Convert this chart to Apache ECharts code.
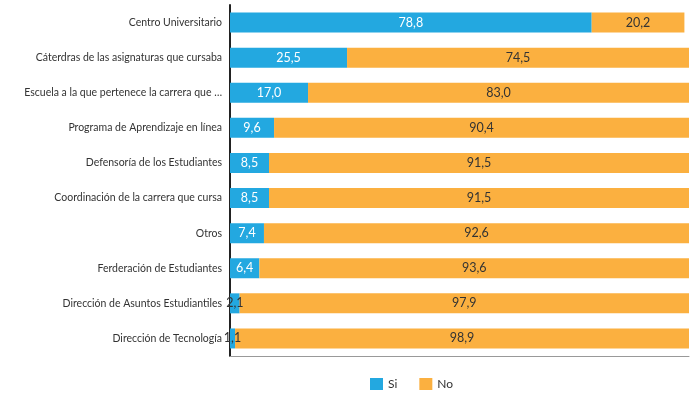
<!DOCTYPE html>
<html>
<head>
<meta charset="utf-8">
<script src="https://cdn.jsdelivr.net/npm/echarts@6/dist/echarts.min.js"></script>
<style>html,body{margin:0;padding:0;background:#fff}#c{width:690px;height:396px}</style>
</head>
<body>
<div id="c"></div>
<script>
const categories = [
  "Centro Universitario",
  "Cáterdras de las asignaturas que cursaba",
  "Escuela a la que pertenece la carrera que …",
  "Programa de Aprendizaje en línea",
  "Defensoría de los Estudiantes",
  "Coordinación de la carrera que cursa",
  "Otros",
  "Ferderación de Estudiantes",
  "Dirección de Asuntos Estudiantiles",
  "Dirección de Tecnología"
];
const siValues = [78.8, 25.5, 17.0, 9.6, 8.5, 8.5, 7.4, 6.4, 2.1, 1.1];
const noValues = [20.2, 74.5, 83.0, 90.4, 91.5, 91.5, 92.6, 93.6, 97.9, 98.9];
const seriesNames = ["Si", "No"];

const font = "Lato, sans-serif";
const fmt = p => p.value.toFixed(1).replace('.', ',');

const chart = echarts.init(document.getElementById('c'), null, {renderer: 'canvas'});
chart.setOption({
  animation: false,
  textStyle: {fontFamily: font},
  grid: {left: 230, right: 1, top: 5, bottom: 40, containLabel: false, outerBoundsMode: 'none'},
  legend: {
    data: seriesNames, left: 365, top: 373, itemWidth: 13, itemHeight: 12, itemGap: 22,
    icon: 'rect', textStyle: {fontSize: 12, color: '#333', fontFamily: font}
  },
  xAxis: {
    type: 'value', min: 0, max: 100,
    axisLine: {show: true, lineStyle: {color: '#999', width: 1}},
    axisTick: {show: false}, axisLabel: {show: false}, splitLine: {show: false}
  },
  yAxis: {
    type: 'category', data: categories, inverse: true,
    axisLine: {show: true, lineStyle: {color: '#222', width: 2}},
    axisTick: {show: false},
    axisLabel: {fontSize: 10.5, color: '#333', margin: 8, fontFamily: font}
  },
  series: [
    {
      name: seriesNames[0], type: 'bar', stack: 'total', barWidth: 20,
      itemStyle: {color: '#23a8e0'},
      data: siValues.map(v => ({value: v, label: {color: v < 5 ? '#333' : '#fff'}})),
      label: {show: true, position: 'inside', formatter: fmt, fontSize: 12.5, fontFamily: font}
    },
    {
      name: seriesNames[1], type: 'bar', stack: 'total', barWidth: 20,
      itemStyle: {color: '#fbb040'},
      data: noValues,
      label: {show: true, position: 'inside', formatter: fmt, fontSize: 12.5, color: '#333', fontFamily: font}
    }
  ]
});
</script>
</body>
</html>
